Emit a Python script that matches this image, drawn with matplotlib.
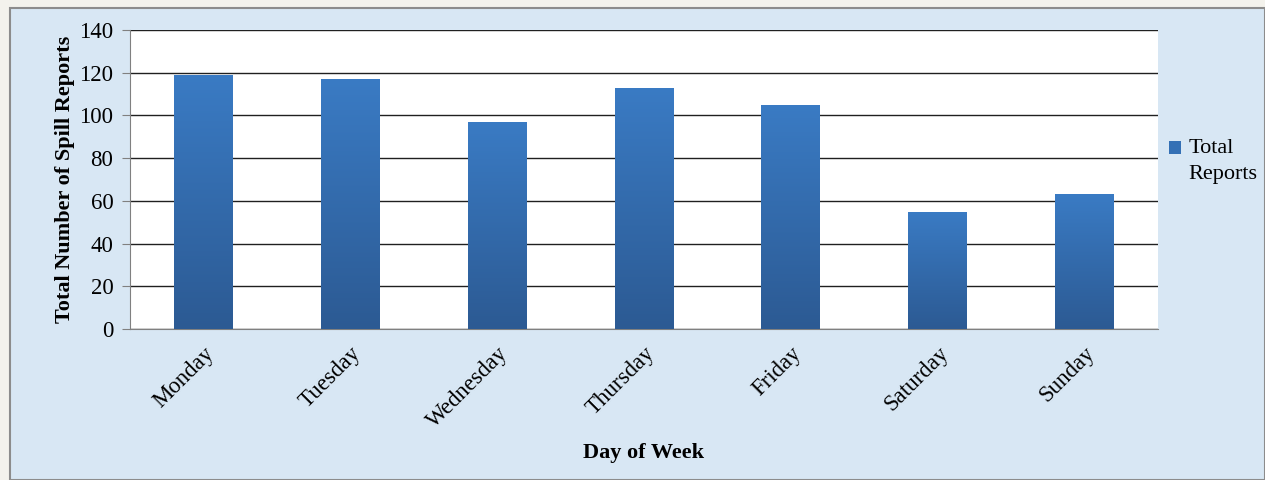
import matplotlib
matplotlib.use("Agg")
import matplotlib.pyplot as plt
import numpy as np
from matplotlib.patches import Rectangle
from matplotlib.legend_handler import HandlerPatch

days = ["Monday", "Tuesday", "Wednesday", "Thursday", "Friday", "Saturday", "Sunday"]
total_reports = [119, 117, 97, 113, 105, 55, 63]
yticks = [0, 20, 40, 60, 80, 100, 120, 140]

plt.rcParams['font.family'] = ['Liberation Serif', 'DejaVu Serif']

fig = plt.figure(figsize=(12.65, 4.8), dpi=100)
fig.patch.set_facecolor('#f3f2ec')
# textured-looking light blue frame, approximated with a flat fill
fig.patches.append(Rectangle((10 / 1265, 0), 1 - 10 / 1265, 1 - 8 / 480,
                             transform=fig.transFigure, facecolor='#d8e7f4',
                             edgecolor='#8c8c8c', linewidth=1.5, zorder=-5))

ax = fig.add_axes([130 / 1265, 1 - 329 / 480, 1028 / 1265, 299 / 480])
ax.set_zorder(2)
ax.set_facecolor('white')

x = np.arange(len(days))
bars = ax.bar(x, total_reports, width=0.4, color='#3470b5', zorder=3)

# vertical gradient on each bar
grad = np.linspace(0, 1, 256).reshape(-1, 1)
cmap = matplotlib.colors.LinearSegmentedColormap.from_list('bar', ['#2c5a93', '#3a7bc4'])
for b in bars:
    x0, y0, w, h = b.get_x(), b.get_y(), b.get_width(), b.get_height()
    im = ax.imshow(grad, extent=[x0, x0 + w, y0, y0 + h], origin='lower',
                   aspect='auto', cmap=cmap, zorder=3.5)
    im.set_clip_path(b)

ax.set_xlim(-0.5, len(days) - 0.5)
ax.set_ylim(0, 140)
ax.set_yticks(yticks)
ax.yaxis.grid(True, color='#202020', linewidth=1.0, zorder=1)
ax.set_axisbelow(True)

ax.set_xticks(x)
ax.set_xticklabels(days, rotation=45, ha='right', rotation_mode='anchor', fontsize=16.5)
ax.tick_params(axis='x', length=0, pad=10)
ax.tick_params(axis='y', length=6, color='#808080', labelsize=16.5, pad=6)

for s in ['top', 'right']:
    ax.spines[s].set_visible(False)
ax.spines['left'].set_color('#808080')
ax.spines['bottom'].set_color('#808080')

ax.set_ylabel('Total Number of Spill Reports', fontsize=16, fontweight='bold', labelpad=3)
ax.set_xlabel('Day of Week', fontsize=16, fontweight='bold', labelpad=8)


# legend square sits beside the first text line, like the reference
def top_square(legend, orig_handle, xdescent, ydescent, width, height, fontsize):
    return Rectangle((-xdescent, -ydescent + 0.6 * fontsize), width, height)


leg = ax.legend([bars[0]], ['Total\nReports'], loc='center left',
                bbox_to_anchor=(1.006, 0.56), frameon=False, fontsize=16,
                handlelength=0.55, handleheight=0.55, handletextpad=0.35,
                borderaxespad=0.0, borderpad=0.2,
                handler_map={bars[0]: HandlerPatch(patch_func=top_square)})
for t in leg.get_texts():
    t.set_linespacing(1.45)

fig.savefig('out.png', dpi=100, facecolor=fig.get_facecolor())
